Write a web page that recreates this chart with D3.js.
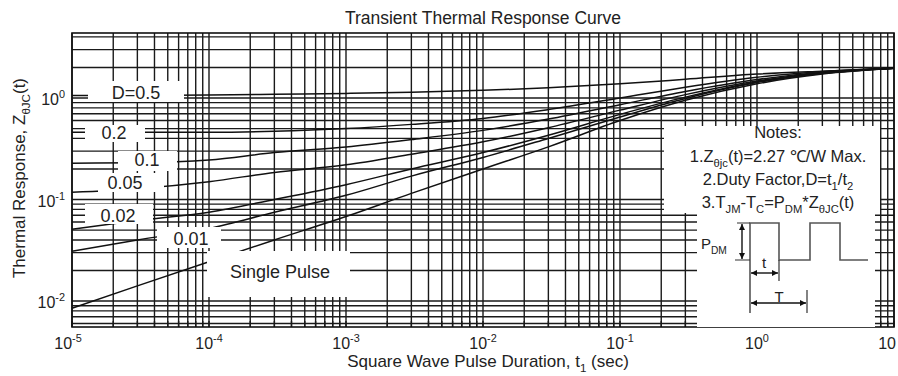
<!DOCTYPE html>
<html>
<head>
<meta charset="utf-8">
<script src="https://cdn.jsdelivr.net/npm/d3@7"></script>
<style>
  body { margin: 0; background: #fff; }
  text { font-family: "Liberation Sans", Arial, sans-serif; fill: #222; }
</style>
</head>
<body>
<div id="chart"></div>
<script>
var tValues = [1e-5, 3e-5, 1e-4, 3e-4, 1e-3, 3e-3, 1e-2, 3e-2, 1e-1, 3e-1, 1, 3, 10];

// thermal response Z(t) for each duty factor
var zD05    = [1.06, 1.06, 1.07, 1.09, 1.11, 1.14, 1.19, 1.26, 1.38, 1.53, 1.72, 1.84, 1.96];
var zD02    = [0.46, 0.46, 0.46, 0.47, 0.50, 0.55, 0.63, 0.77, 1.00, 1.28, 1.60, 1.82, 1.96];
var zD01    = [0.228, 0.23, 0.245, 0.29, 0.33, 0.39, 0.48, 0.62, 0.86, 1.16, 1.52, 1.79, 1.96];
var zD005   = [0.118, 0.128, 0.15, 0.185, 0.22, 0.28, 0.37, 0.51, 0.76, 1.08, 1.47, 1.77, 1.96];
var zD002   = [0.051, 0.062, 0.075, 0.10, 0.14, 0.20, 0.29, 0.43, 0.69, 1.02, 1.44, 1.75, 1.96];
var zD001   = [0.031, 0.040, 0.052, 0.075, 0.11, 0.17, 0.26, 0.40, 0.65, 0.99, 1.42, 1.74, 1.96];
var zSingle = [0.0085, 0.0141, 0.0244, 0.040, 0.068, 0.115, 0.20, 0.33, 0.60, 0.95, 1.38, 1.72, 1.96];

var seriesNames = ["D=0.5", "0.2", "0.1", "0.05", "0.02", "0.01", "Single Pulse"];
var seriesData = [zD05, zD02, zD01, zD005, zD002, zD001, zSingle];

var xTickValues = [1e-5, 1e-4, 1e-3, 1e-2, 1e-1, 1, 10];
var xTickExps = ["-5", "-4", "-3", "-2", "-1", "0", ""];
var yTickValues = [1, 0.1, 0.01];
var yTickExps = ["0", "-1", "-2"];

var margin = { top: 33, right: 4, bottom: 49, left: 72 },
  width = 898 - margin.left - margin.right,
  height = 376 - margin.top - margin.bottom;

var svg = d3.select("#chart")
  .append("svg")
  .attr("width", 898)
  .attr("height", 376);

var g = svg.append("g")
  .attr("transform", "translate(" + margin.left + "," + margin.top + ")");

var x = d3.scaleLog().domain([1e-5, 10]).range([0, width]);
var y = d3.scaleLog().domain([0.00555, 4.37]).range([height, 0]);

// write text with sub / superscripts
function richText(sel, parts, size) {
  var off = 0;
  parts.forEach(function(p) {
    var target = p[1] === "sub" ? size * 0.3 : p[1] === "sup" ? -size * 0.42 : 0;
    sel.append("tspan")
      .attr("dy", target - off)
      .attr("font-size", p[1] ? size * 0.68 : size)
      .text(p[0]);
    off = target;
  });
}

// grid
g.append("g")
  .selectAll("line")
  .data(x.ticks())
  .enter()
  .append("line")
  .attr("x1", function(d) { return x(d) })
  .attr("x2", function(d) { return x(d) })
  .attr("y1", 0)
  .attr("y2", height)
  .attr("stroke", "#1a1a1a")
  .attr("stroke-width", 1.4);

g.append("g")
  .selectAll("line")
  .data(y.ticks())
  .enter()
  .append("line")
  .attr("x1", 0)
  .attr("x2", width)
  .attr("y1", function(d) { return y(d) })
  .attr("y2", function(d) { return y(d) })
  .attr("stroke", "#1a1a1a")
  .attr("stroke-width", 1.4);

// curves
var line = d3.line()
  .x(function(d, i) { return x(tValues[i]) })
  .y(function(d) { return y(d) })
  .curve(d3.curveMonotoneX);

g.append("g")
  .selectAll("path")
  .data(seriesData)
  .enter()
  .append("path")
  .attr("d", function(d) { return line(d) })
  .attr("fill", "none")
  .attr("stroke", "#111")
  .attr("stroke-width", 1.5);

// white boxes behind curve labels (page coords)
var labelBoxes = [
  { x: 88, y: 81, w: 96, h: 21, tx: 136, ty: 99 },
  { x: 85, y: 125, w: 60, h: 17, tx: 114, ty: 139 },
  { x: 118, y: 151, w: 59, h: 20, tx: 147, ty: 166 },
  { x: 98, y: 173, w: 66, h: 19, tx: 125, ty: 189 },
  { x: 85, y: 204, w: 68, h: 20, tx: 118, ty: 222 },
  { x: 157, y: 227, w: 64, h: 21, tx: 191, ty: 245 },
  { x: 207, y: 251, w: 143, h: 46, tx: 280, ty: 278 }
];

svg.selectAll("rect.lbl")
  .data(labelBoxes)
  .enter()
  .append("rect")
  .attr("class", "lbl")
  .attr("x", function(d) { return d.x })
  .attr("y", function(d) { return d.y })
  .attr("width", function(d) { return d.w })
  .attr("height", function(d) { return d.h })
  .attr("fill", "#fff");

svg.selectAll("text.lbl")
  .data(labelBoxes)
  .enter()
  .append("text")
  .attr("class", "lbl")
  .attr("x", function(d) { return d.tx })
  .attr("y", function(d) { return d.ty })
  .attr("text-anchor", "middle")
  .attr("font-size", 18)
  .text(function(d, i) { return seriesNames[i] });

// notes box and pulse inset
svg.append("rect")
  .attr("x", 664).attr("y", 126).attr("width", 216).attr("height", 87)
  .attr("fill", "#fff");
svg.append("rect")
  .attr("x", 697).attr("y", 213).attr("width", 178).attr("height", 114)
  .attr("fill", "#fff");

// bottom ticks (visible inside the inset)
g.append("g")
  .selectAll("line")
  .data(x.ticks())
  .enter()
  .append("line")
  .attr("x1", function(d) { return x(d) })
  .attr("x2", function(d) { return x(d) })
  .attr("y1", height)
  .attr("y2", height - 6)
  .attr("stroke", "#1a1a1a")
  .attr("stroke-width", 1.4);

g.append("rect")
  .attr("width", width)
  .attr("height", height)
  .attr("fill", "none")
  .attr("stroke", "#111")
  .attr("stroke-width", 1.6);

var notes = [
  [["Notes:"]],
  [["1.Z"], ["\u03b8jc", "sub"], ["(t)=2.27 \u2103/W Max."]],
  [["2.Duty Factor,D=t"], ["1", "sub"], ["/t"], ["2", "sub"]],
  [["3.T"], ["JM", "sub"], ["-T"], ["C", "sub"], ["=P"], ["DM", "sub"], ["*Z"], ["\u03b8JC", "sub"], ["(t)"]]
];
var notesY = [138, 162, 185, 208];
notes.forEach(function(parts, i) {
  var t = svg.append("text")
    .attr("x", 778)
    .attr("y", notesY[i])
    .attr("text-anchor", "middle");
  richText(t, parts, 16.5);
});

// pulse diagram
var defs = svg.append("defs");
defs.append("marker")
  .attr("id", "arrow")
  .attr("viewBox", "0 0 10 10")
  .attr("refX", 10).attr("refY", 5)
  .attr("markerWidth", 6).attr("markerHeight", 6)
  .attr("markerUnits", "userSpaceOnUse")
  .attr("orient", "auto-start-reverse")
  .append("path")
  .attr("d", "M0,0L10,5L0,10z")
  .attr("fill", "#111");

var inset = svg.append("g");
inset.append("path")
  .attr("d", "M750,313V223H779V260H810V223H840V260H868")
  .attr("fill", "none")
  .attr("stroke", "#555")
  .attr("stroke-width", 1.6);
inset.append("path")
  .attr("d", "M779,260V281M807,290V313M737,223H750M735,260H750")
  .attr("fill", "none")
  .attr("stroke", "#333")
  .attr("stroke-width", 1.2);
inset.append("line")
  .attr("x1", 742).attr("y1", 224).attr("x2", 742).attr("y2", 259)
  .attr("stroke", "#111").attr("stroke-width", 1.4)
  .attr("marker-start", "url(#arrow)").attr("marker-end", "url(#arrow)");
inset.append("line")
  .attr("x1", 751).attr("y1", 273).attr("x2", 778).attr("y2", 273)
  .attr("stroke", "#111").attr("stroke-width", 1.4)
  .attr("marker-start", "url(#arrow)").attr("marker-end", "url(#arrow)");
inset.append("line")
  .attr("x1", 751).attr("y1", 303).attr("x2", 806).attr("y2", 303)
  .attr("stroke", "#111").attr("stroke-width", 1.4)
  .attr("marker-start", "url(#arrow)").attr("marker-end", "url(#arrow)");

var pdm = inset.append("text").attr("x", 701).attr("y", 249);
richText(pdm, [["P"], ["DM", "sub"]], 15);
inset.append("text").attr("x", 764).attr("y", 268).attr("text-anchor", "middle")
  .attr("font-size", 15).text("t");
inset.append("text").attr("x", 779).attr("y", 302).attr("text-anchor", "middle")
  .attr("font-size", 15).text("T");

// tick labels
xTickValues.forEach(function(v, i) {
  var last = i === xTickValues.length - 1;
  var t = svg.append("text")
    .attr("x", margin.left + x(v) + (i === 0 ? -4 : 0) + (last ? 2 : 0))
    .attr("y", 349)
    .attr("text-anchor", last ? "end" : "middle");
  var parts = [["10"]];
  if (xTickExps[i] !== "") parts.push([xTickExps[i], "sup"]);
  richText(t, parts, 16);
});

yTickValues.forEach(function(v, i) {
  var t = svg.append("text")
    .attr("x", 65)
    .attr("y", margin.top + y(v) + 7)
    .attr("text-anchor", "end");
  richText(t, [["10"], [yTickExps[i], "sup"]], 16);
});

// titles
svg.append("text")
  .attr("x", 483).attr("y", 24)
  .attr("text-anchor", "middle")
  .attr("font-size", 17.5)
  .text("Transient Thermal Response Curve");

var xl = svg.append("text")
  .attr("x", 488).attr("y", 367)
  .attr("text-anchor", "middle");
richText(xl, [["Square Wave Pulse Duration, t"], ["1", "sub"], [" (sec)"]], 17);

var yl = svg.append("text")
  .attr("transform", "translate(25,178) rotate(-90)")
  .attr("text-anchor", "middle");
richText(yl, [["Thermal Response, Z"], ["\u03b8JC", "sub"], ["(t)"]], 17);
</script>
</body>
</html>
